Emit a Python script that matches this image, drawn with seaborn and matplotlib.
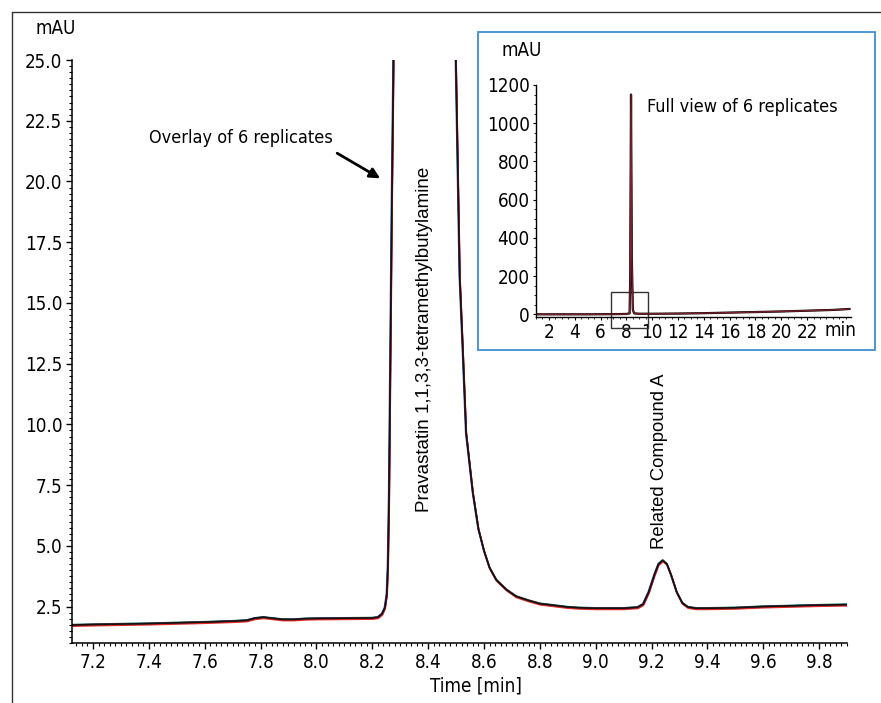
import numpy as np
import pandas as pd
import seaborn as sns
import matplotlib.pyplot as plt
import matplotlib.patches as patches
from matplotlib.ticker import MultipleLocator, FormatStrFormatter

# zoomed chromatogram (mAU vs min)
time_min = [7.125, 7.2, 7.3, 7.4, 7.5, 7.6, 7.7, 7.75, 7.78, 7.81, 7.84, 7.88,
            7.92, 7.96, 8.0, 8.1, 8.2, 8.22, 8.235, 8.245, 8.252, 8.256, 8.26,
            8.265, 8.27, 8.275, 8.28, 8.30, 8.33, 8.36, 8.40, 8.44, 8.47, 8.49,
            8.50, 8.513, 8.524, 8.536, 8.56, 8.58, 8.60, 8.62, 8.644, 8.68,
            8.715, 8.76, 8.80, 8.85, 8.90, 8.94, 9.0, 9.1, 9.15, 9.17, 9.19,
            9.21, 9.225, 9.24, 9.255, 9.27, 9.29, 9.31, 9.33, 9.36, 9.4, 9.5,
            9.6, 9.7, 9.8, 9.9]
signal_mau = [1.74, 1.76, 1.78, 1.80, 1.83, 1.86, 1.90, 1.93, 2.02, 2.06, 2.02,
              1.97, 1.97, 2.00, 2.01, 2.02, 2.03, 2.06, 2.2, 2.45, 3.0, 4.2,
              7.0, 13.0, 19.0, 24.0, 30.0, 200, 700, 1150, 600, 150, 60, 30,
              24.5, 16.1, 13.1, 9.65, 7.2, 5.7, 4.8, 4.1, 3.6, 3.2, 2.92, 2.75,
              2.62, 2.55, 2.48, 2.45, 2.43, 2.43, 2.47, 2.6, 3.1, 3.8, 4.25,
              4.4, 4.25, 3.8, 3.1, 2.65, 2.48, 2.43, 2.43, 2.45, 2.5, 2.53,
              2.56, 2.58]

# six replicate injections: colour, small retention and signal differences
replicates = ['rep1', 'rep2', 'rep3', 'rep4', 'rep5', 'rep6']
rep_colors = ['#2e9e44', '#3355cc', '#9a3a9a', '#e02828', '#7a1a1a', '#111111']
rep_dt = [0.0005, -0.0015, 0.001, 0.0015, 0.0008, 0.0]
rep_dy = [0.02, 0.01, -0.02, -0.05, 0.0, 0.0]

# full run (inset)
full_time = [1.0, 3.0, 5.0, 7.0, 8.0, 8.25, 8.3, 8.36, 8.42, 8.5, 8.6, 9.0,
             10.0, 12.0, 14.0, 16.0, 18.0, 20.0, 22.0, 24.0, 25.3]
full_mau = [0, 0, 0, 1, 2, 5, 200, 1150, 300, 25, 5, 3, 3, 4, 6, 9, 12, 15,
            19, 23, 28]

rows = []
for name, dt, dy in zip(replicates, rep_dt, rep_dy):
    for t, s in zip(time_min, signal_mau):
        rows.append({'time': t + dt, 'mAU': s + dy, 'rep': name})
df = pd.DataFrame(rows)
df_full = pd.DataFrame({'time': full_time, 'mAU': full_mau})

sns.set_style('white')
plt.rcParams['font.family'] = ['Liberation Sans Narrow', 'DejaVu Sans']
plt.rcParams['font.stretch'] = 'condensed'
for k in ['text.color', 'axes.labelcolor', 'xtick.color', 'ytick.color']:
    plt.rcParams[k] = 'black'

W, H = 881, 703
fig = plt.figure(figsize=(W / 100, H / 100), dpi=100)

def fx(px):
    return px / W

def fy(py):
    return 1 - py / H

# outer frame (only top and left edges are in view)
fig.add_artist(plt.Line2D([fx(12), 1], [fy(11.5), fy(11.5)], color='#333333', lw=1.0))
fig.add_artist(plt.Line2D([fx(12), fx(12)], [0, fy(11.5)], color='#333333', lw=1.0))

ax = fig.add_axes([fx(72), fy(643), fx(847) - fx(72), fy(60) - fy(643)])
sns.lineplot(data=df, x='time', y='mAU', hue='rep', hue_order=replicates,
             palette=rep_colors, estimator=None, sort=False, legend=False,
             lw=1.1, ax=ax)
ax.set_xlim(7.125, 9.9)
ax.set_ylim(1.0, 25.0)
ax.xaxis.set_major_locator(MultipleLocator(0.2))
ax.xaxis.set_minor_locator(MultipleLocator(0.02))
ax.xaxis.set_major_formatter(FormatStrFormatter('%.1f'))
ax.yaxis.set_major_locator(MultipleLocator(2.5))
ax.yaxis.set_minor_locator(MultipleLocator(0.25))
ax.yaxis.set_major_formatter(FormatStrFormatter('%.1f'))
for s in ['top', 'right']:
    ax.spines[s].set_visible(False)
for s in ['left', 'bottom']:
    ax.spines[s].set_color('black')
    ax.spines[s].set_linewidth(1.1)
ax.tick_params(which='major', direction='out', length=4, width=1, labelsize=13.5,
               left=True, bottom=True, pad=3)
ax.tick_params(which='minor', direction='out', length=2.2, width=0.8,
               left=True, bottom=True)
ax.set_xlabel('Time [min]', fontsize=13.5)
ax.xaxis.set_label_coords((476 - 72) / 775, -0.058)
ax.set_ylabel('')

fig.text(fx(56), fy(29), 'mAU', fontsize=13.5, ha='center', va='center')

ax.annotate('', xy=(8.237, 20.07), xytext=(8.066, 21.22),
            arrowprops=dict(arrowstyle='-|>,head_length=0.6,head_width=0.3',
                            color='black', lw=2))
ax.text(7.731, 21.8, 'Overlay of 6 replicates', fontsize=13, ha='center', va='center')
ax.text(8.387, 6.41, 'Pravastatin 1,1,3,3-tetramethylbutylamine',
        family=['Liberation Sans', 'DejaVu Sans'], stretch='normal', fontsize=13.5,
        rotation=90, ha='center', va='bottom')
ax.text(9.228, 4.85, 'Related Compound A', family=['Liberation Sans', 'DejaVu Sans'],
        stretch='normal', fontsize=13.3, rotation=90, ha='center', va='bottom')

# inset with the full run
box = patches.Rectangle((fx(478), fy(350)), fx(875) - fx(478), fy(32) - fy(350),
                        transform=fig.transFigure, facecolor='white',
                        edgecolor='#3f8fd2', lw=1.3, zorder=2)
fig.add_artist(box)

ins = fig.add_axes([fx(536), fy(317), fx(851) - fx(536), fy(85) - fy(317)])
ins.set_zorder(3)
ins.patch.set_alpha(0)
sns.lineplot(data=df_full, x='time', y='mAU', color='black', lw=1.6,
             estimator=None, sort=False, ax=ins)
sns.lineplot(data=df_full, x='time', y='mAU', color='#7a1f2b', lw=1.0,
             estimator=None, sort=False, ax=ins)
ins.set_xlim(1.0, 25.4)
ins.set_ylim(-14, 1200)
ins.set_xticks([2, 4, 6, 8, 10, 12, 14, 16, 18, 20, 22])
ins.xaxis.set_minor_locator(MultipleLocator(0.5))
ins.yaxis.set_major_locator(MultipleLocator(200))
ins.yaxis.set_minor_locator(MultipleLocator(50))
for s in ['top', 'right']:
    ins.spines[s].set_visible(False)
for s in ['left', 'bottom']:
    ins.spines[s].set_color('black')
    ins.spines[s].set_linewidth(1.0)
ins.tick_params(which='major', direction='out', length=2.5, width=0.8,
                labelsize=13.5, left=True, bottom=True, pad=2)
ins.tick_params(which='minor', direction='out', length=1.5, width=0.6,
                left=True, bottom=True)
ins.set_xlabel('')
ins.set_ylabel('')
ins.add_patch(patches.Rectangle((6.8, -72), 2.9, 190, fill=False,
                                edgecolor='#333333', lw=1.0, clip_on=False))
fig.text(fx(840), fy(331), 'min', fontsize=13.5, ha='center', va='center', zorder=4)
fig.text(fx(522), fy(50), 'mAU', fontsize=13.5, ha='center', va='center', zorder=4)
fig.text(fx(647), fy(107), 'Full view of 6 replicates', fontsize=13,
         ha='left', va='center', zorder=4)

fig.savefig('out.png', dpi=100)
